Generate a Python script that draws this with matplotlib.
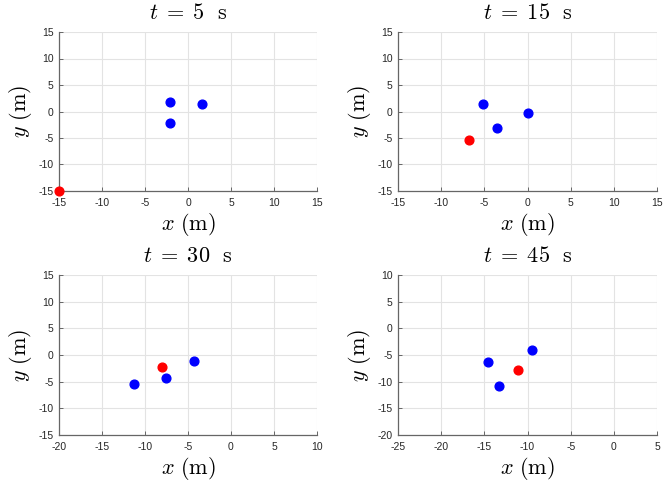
import matplotlib
matplotlib.use("Agg")
import matplotlib.pyplot as plt

plt.rcParams['mathtext.fontset'] = 'cm'
plt.rcParams['font.family'] = ['Liberation Sans', 'DejaVu Sans']
plt.rcParams['axes.unicode_minus'] = False

times = [5, 15, 30, 45]
blue_x = [[-2.1, -2.15, 1.6], [-5.15, -3.5, 0.0], [-11.25, -7.6, -4.36], [-14.6, -13.3, -9.5]]
blue_y = [[1.8, -2.25, 1.4], [1.4, -3.2, -0.35], [-5.45, -4.4, -1.1], [-6.3, -10.9, -4.05]]
red_x = [-15.0, -6.75, -8.0, -11.1]
red_y = [-15.0, -5.4, -2.3, -7.9]
xlims = [(-15, 15), (-15, 15), (-20, 10), (-25, 5)]
ylims = [(-15, 15), (-15, 15), (-15, 15), (-20, 10)]

W, H = 664, 482
fig = plt.figure(figsize=(W / 100, H / 100), dpi=100)
boxes = [(59, 32, 317, 191), (398, 32, 657, 191), (59, 275, 317, 435), (398, 275, 657, 435)]

axc = (0.15, 0.15, 0.15)
for i, (x0, y0, x1, y1) in enumerate(boxes):
    ax = fig.add_axes([x0 / W, 1 - y1 / H, (x1 - x0) / W, (y1 - y0) / H])
    ax.set_xlim(*xlims[i])
    ax.set_ylim(*ylims[i])
    ax.set_xticks(range(xlims[i][0], xlims[i][1] + 1, 5))
    ax.set_yticks(range(ylims[i][0], ylims[i][1] + 1, 5))
    ax.grid(True, color=(0.89, 0.89, 0.89), linewidth=0.8)
    ax.set_axisbelow(True)
    for s in ['top', 'right']:
        ax.spines[s].set_visible(False)
    for s in ['left', 'bottom']:
        ax.spines[s].set_color((0.4, 0.4, 0.4))
        ax.spines[s].set_linewidth(0.9)
    ax.tick_params(direction='in', length=3, width=0.7, color=(0.4, 0.4, 0.4),
                   labelsize=7.5, labelcolor=axc)
    ax.tick_params(axis='x', pad=5)
    ax.tick_params(axis='y', pad=4)
    ax.plot(blue_x[i], blue_y[i], 'o', color=(0, 0, 1), markersize=6.3, clip_on=False, zorder=3)
    ax.plot([red_x[i]], [red_y[i]], 'o', color=(1, 0, 0), markersize=6.3, clip_on=False, zorder=3)
    ax.set_title(r'$t\; = \; %d\ \ \mathrm{s}$' % times[i], fontsize=16, pad=9.5, color='black')
    ax.set_xlabel(r'$x\ \mathrm{(m)}$', fontsize=16, labelpad=2.5)
    ax.set_ylabel(r'$y\ \mathrm{(m)}$', fontsize=16, labelpad=3)

fig.savefig('out.png', dpi=100)
